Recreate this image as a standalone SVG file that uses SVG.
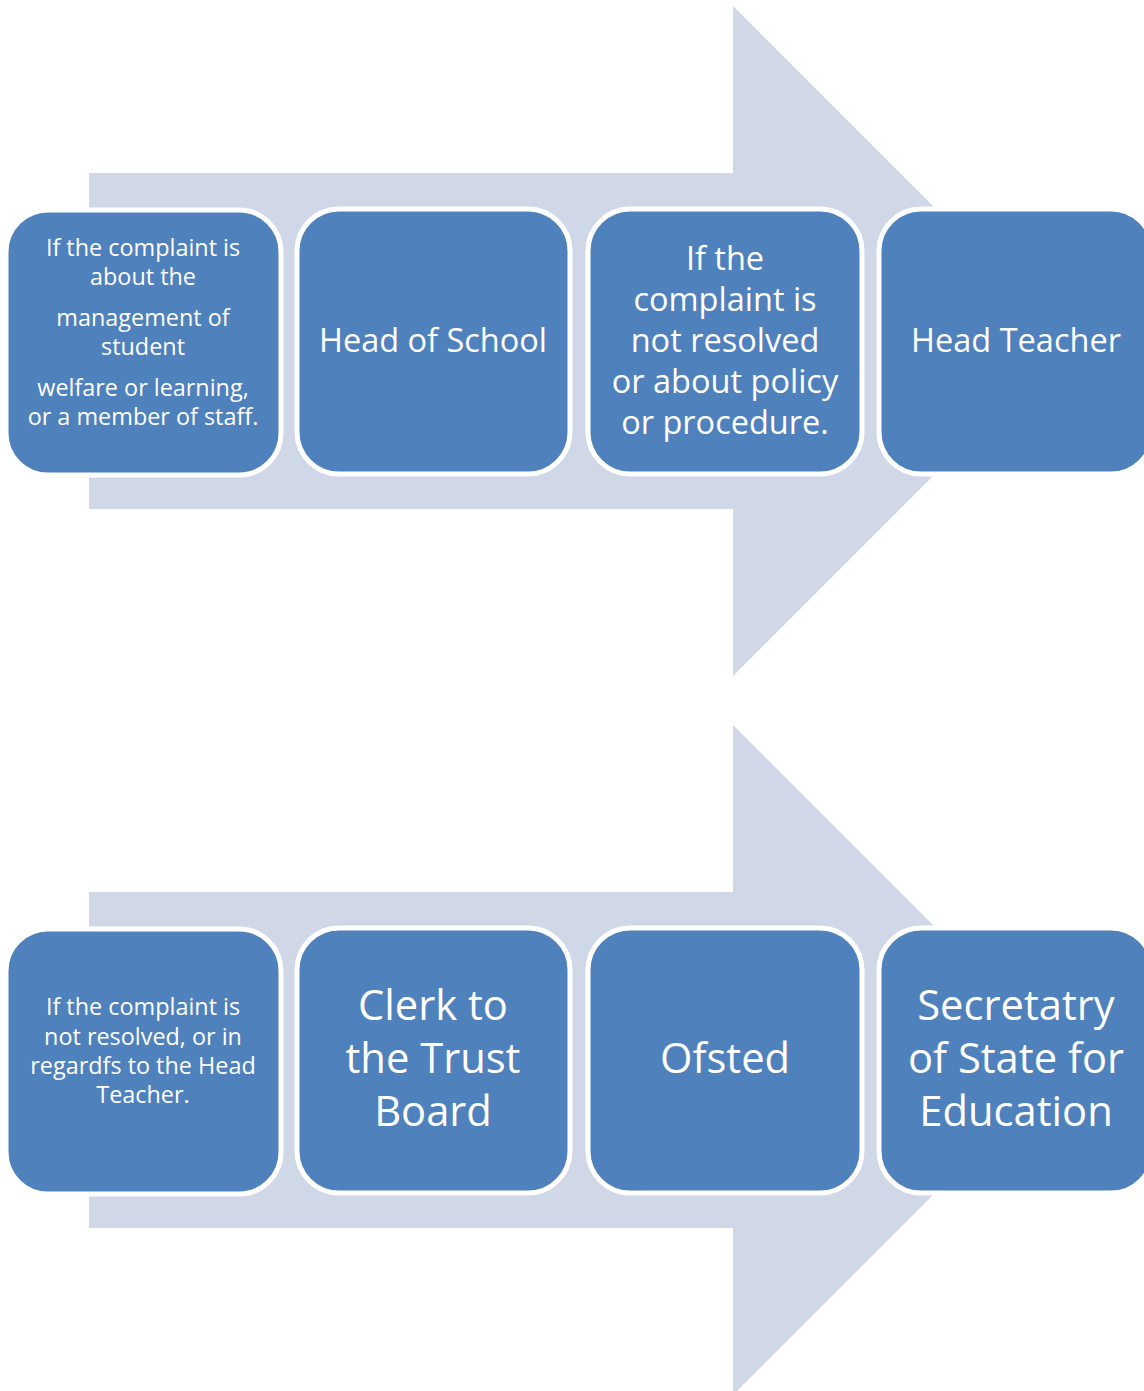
<svg xmlns="http://www.w3.org/2000/svg" width="1144" height="1391" viewBox="0 0 1144 1391">
  <style>
    .arrow { fill: #D0D8E8; }
    .box { fill: #4F81BD; stroke: #FFFFFF; stroke-width: 5; }
    .t { fill: #FFFFFF; font-family: "Open Sans", Lato, "Liberation Sans", sans-serif; text-anchor: middle; }
    .s { font-size: 23.4px; }
    .m { font-size: 32.5px; }
    .l { font-size: 41.7px; }
  </style>
  <rect width="1144" height="1391" fill="#FFFFFF"/>
  <g id="arrows">
    <polygon class="arrow" points="89,173 733,173 733,6 1068,341 733,676 733,509 89,509"/>
    <polygon class="arrow" points="89,892 733,892 733,725 1068,1060 733,1395 733,1228 89,1228"/>
  </g>
  <g id="node-complaint-about">
    <rect class="box" x="6" y="210" width="275" height="265" rx="42"/>
    <text class="t s" x="143" y="256">If the complaint is</text>
    <text class="t s" x="143" y="285">about the</text>
    <text class="t s" x="143" y="326">management of</text>
    <text class="t s" x="143" y="355">student</text>
    <text class="t s" x="143" y="396">welfare or learning,</text>
    <text class="t s" x="143" y="425">or a member of staff.</text>
  </g>
  <g id="node-head-of-school">
    <rect class="box" x="297" y="209" width="273" height="265" rx="42"/>
    <text class="t m" x="433" y="352">Head of School</text>
  </g>
  <g id="node-not-resolved">
    <rect class="box" x="588" y="209" width="274" height="265" rx="42"/>
    <text class="t m" x="725" y="270">If the</text>
    <text class="t m" x="725" y="311">complaint is</text>
    <text class="t m" x="725" y="352">not resolved</text>
    <text class="t m" x="725" y="393">or about policy</text>
    <text class="t m" x="725" y="434">or procedure.</text>
  </g>
  <g id="node-head-teacher">
    <rect class="box" x="879" y="209" width="274" height="265" rx="42"/>
    <text class="t m" x="1016" y="352">Head Teacher</text>
  </g>
  <g id="node-not-resolved-ht">
    <rect class="box" x="6" y="929" width="275" height="265" rx="42"/>
    <text class="t s" x="143" y="1015">If the complaint is</text>
    <text class="t s" x="143" y="1045">not resolved, or in</text>
    <text class="t s" x="143" y="1074">regardfs to the Head</text>
    <text class="t s" x="143" y="1103">Teacher.</text>
  </g>
  <g id="node-clerk">
    <rect class="box" x="297" y="928" width="273" height="265" rx="42"/>
    <text class="t l" x="433" y="1020">Clerk to</text>
    <text class="t l" x="433" y="1073">the Trust</text>
    <text class="t l" x="433" y="1126">Board</text>
  </g>
  <g id="node-ofsted">
    <rect class="box" x="588" y="928" width="274" height="265" rx="42"/>
    <text class="t l" x="725" y="1073">Ofsted</text>
  </g>
  <g id="node-secretary">
    <rect class="box" x="879" y="928" width="274" height="265" rx="42"/>
    <text class="t l" x="1016" y="1020">Secretatry</text>
    <text class="t l" x="1016" y="1073">of State for</text>
    <text class="t l" x="1016" y="1126">Education</text>
  </g>
</svg>
